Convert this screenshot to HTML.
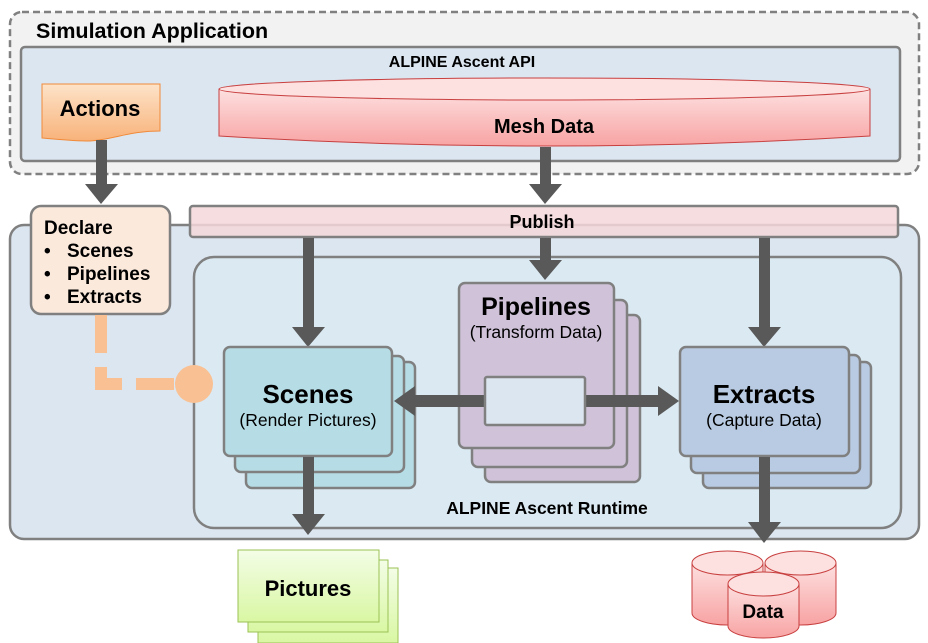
<!DOCTYPE html>
<html><head><meta charset="utf-8"><style>
html,body{margin:0;padding:0;background:#fff;}
svg{display:block;font-family:"Liberation Sans",Arial,sans-serif;font-weight:bold;}
</style></head><body>
<svg width="928" height="643" viewBox="0 0 928 643" xmlns="http://www.w3.org/2000/svg">
<defs>
<linearGradient id="act" x1="0" y1="0" x2="0" y2="1"><stop offset="0" stop-color="#fde3c8"/><stop offset="1" stop-color="#f8b27a"/></linearGradient>
<linearGradient id="red" x1="0" y1="0" x2="0" y2="1"><stop offset="0" stop-color="#fde0e0"/><stop offset="1" stop-color="#f8a3a3"/></linearGradient>
<linearGradient id="grn" x1="0" y1="0" x2="0" y2="1"><stop offset="0" stop-color="#f3fde6"/><stop offset="1" stop-color="#d9f7a3"/></linearGradient>
</defs>
<rect x="10" y="12" width="909" height="162" rx="12" fill="#f2f2f2" stroke="#808080" stroke-width="2.5" stroke-dasharray="7,4"/>
<text x="36" y="38" font-size="21.5">Simulation Application</text>
<rect x="21" y="47" width="879" height="114" rx="4" fill="#dce6f0" stroke="#808080" stroke-width="2.5"/>
<text x="462" y="67" font-size="16" text-anchor="middle">ALPINE Ascent API</text>
<path d="M42 84 H160 V131 C130 131 115 139 90 141 C70 141 55 139 42 138 Z" fill="url(#act)" stroke="#f08a3a" stroke-width="1"/>
<text x="100" y="116" font-size="22" text-anchor="middle">Actions</text>
<path d="M219 89 V136 Q545 156 870 136 V89" fill="url(#red)" stroke="#c84040" stroke-width="1"/>
<ellipse cx="544.5" cy="89" rx="325.5" ry="11" fill="#fde0e0" stroke="#c84040" stroke-width="1"/>
<text x="544" y="133" font-size="20" text-anchor="middle">Mesh Data</text>
<rect x="96" y="140" width="11" height="45" fill="#595959"/><polygon points="85,184 118,184 101,204" fill="#595959"/>
<rect x="540" y="147" width="11" height="38" fill="#595959"/><polygon points="529,184 562,184 545,204" fill="#595959"/>
<rect x="10" y="225" width="909" height="314" rx="14" fill="#dce6f0" stroke="#808080" stroke-width="2.5"/>
<rect x="194" y="257" width="707" height="271" rx="20" fill="#dbeaf2" stroke="#808080" stroke-width="2.5"/>
<text x="547" y="514" font-size="17.5" text-anchor="middle">ALPINE Ascent Runtime</text>
<rect x="190" y="206" width="708" height="31" rx="3" fill="#f4d7d9" fill-opacity="0.85" stroke="#808080" stroke-width="2.5"/>
<text x="542" y="228" font-size="18" text-anchor="middle">Publish</text>
<rect x="31" y="206" width="139" height="108" rx="10" fill="#fbe9dc" stroke="#808080" stroke-width="2.5"/>
<text x="44" y="234" font-size="19">Declare</text>
<text x="44" y="257" font-size="19">•</text><text x="67" y="257" font-size="19">Scenes</text>
<text x="44" y="280" font-size="19">•</text><text x="67" y="280" font-size="19">Pipelines</text>
<text x="44" y="303" font-size="19">•</text><text x="67" y="303" font-size="19">Extracts</text>
<path d="M101 315 V384 H176" fill="none" stroke="#f9c193" stroke-width="12" stroke-dasharray="38,14"/>
<circle cx="194" cy="384" r="19" fill="#f9c193"/>
<rect x="303" y="238" width="11" height="90" fill="#595959"/><polygon points="292,327 325,327 308,347" fill="#595959"/>
<rect x="540" y="238" width="11" height="24" fill="#595959"/><polygon points="529,260 562,260 545,280" fill="#595959"/>
<rect x="759" y="238" width="11" height="90" fill="#595959"/><polygon points="748,327 781,327 764,347" fill="#595959"/>
<rect x="485" y="315" width="155" height="167" rx="6" fill="#cfc2d9" stroke="#808080" stroke-width="2.5"/>
<rect x="472" y="300" width="155" height="167" rx="6" fill="#cfc2d9" stroke="#808080" stroke-width="2.5"/>
<rect x="459" y="283" width="155" height="165" rx="6" fill="#cfc2d9" stroke="#808080" stroke-width="2.5"/>
<text x="536" y="315" font-size="25" text-anchor="middle">Pipelines</text>
<text x="536" y="338" font-size="17.5" font-weight="normal" text-anchor="middle">(Transform Data)</text>
<rect x="246" y="362" width="169" height="126" rx="6" fill="#b6dde6" stroke="#808080" stroke-width="2.5"/>
<rect x="235" y="356" width="169" height="116" rx="6" fill="#b6dde6" stroke="#808080" stroke-width="2.5"/>
<rect x="224" y="347" width="168" height="109" rx="6" fill="#b6dde6" stroke="#808080" stroke-width="2.5"/>
<text x="308" y="403" font-size="26" text-anchor="middle">Scenes</text>
<text x="308" y="426" font-size="17.5" font-weight="normal" text-anchor="middle">(Render Pictures)</text>
<rect x="703" y="362" width="168" height="126" rx="6" fill="#b8cbe2" stroke="#808080" stroke-width="2.5"/>
<rect x="691" y="355" width="169" height="118" rx="6" fill="#b8cbe2" stroke="#808080" stroke-width="2.5"/>
<rect x="680" y="347" width="169" height="109" rx="6" fill="#b8cbe2" stroke="#808080" stroke-width="2.5"/>
<text x="764" y="403" font-size="26" text-anchor="middle">Extracts</text>
<text x="764" y="426" font-size="17.5" font-weight="normal" text-anchor="middle">(Capture Data)</text>
<rect x="412" y="395" width="76" height="12" fill="#595959"/><polygon points="415,386 415,416 394,401" fill="#595959"/>
<rect x="582" y="395" width="78" height="12" fill="#595959"/><polygon points="658,386 658,416 679,401" fill="#595959"/>
<rect x="485" y="377" width="100" height="48" rx="2" fill="#dce6f0" stroke="#808080" stroke-width="2.5"/>
<rect x="303" y="457" width="11" height="58" fill="#595959"/><polygon points="292,514 325,514 308,535" fill="#595959"/>
<rect x="759" y="457" width="11" height="66" fill="#595959"/><polygon points="748,522 781,522 764,543" fill="#595959"/>
<rect x="258" y="568" width="140" height="75" fill="url(#grn)" stroke="#9bc255" stroke-width="1"/>
<rect x="248" y="560" width="140" height="72" fill="url(#grn)" stroke="#9bc255" stroke-width="1"/>
<rect x="238" y="550" width="141" height="72" fill="url(#grn)" stroke="#9bc255" stroke-width="1"/>
<text x="308" y="596" font-size="22" text-anchor="middle">Pictures</text>
<g stroke="#c84040" stroke-width="1">
<path d="M692 563 V613 A35.5 12 0 0 0 763 613 V563" fill="url(#red)"/><ellipse cx="727.5" cy="563" rx="35.5" ry="12" fill="#fde0e0"/>
<path d="M765 563 V613 A35.5 12 0 0 0 836 613 V563" fill="url(#red)"/><ellipse cx="800.5" cy="563" rx="35.5" ry="12" fill="#fde0e0"/>
<path d="M728 584 V626 A35.5 12 0 0 0 799 626 V584" fill="url(#red)"/><ellipse cx="763.5" cy="584" rx="35.5" ry="12" fill="#fde0e0"/>
</g>
<text x="763" y="618" font-size="19" text-anchor="middle">Data</text>
</svg>
</body></html>
